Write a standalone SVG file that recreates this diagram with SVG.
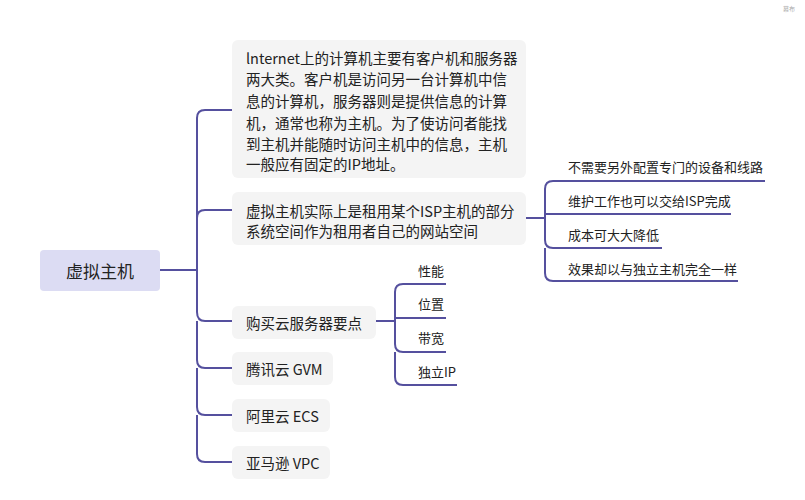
<svg xmlns="http://www.w3.org/2000/svg" width="805" height="500" viewBox="0 0 805 500">
<style>
text{font-family:"Noto Sans CJK SC","Noto Sans",sans-serif;fill:#222;dominant-baseline:central}
.b{fill:#f4f4f4}
.c{fill:none;stroke:#55509e;stroke-width:2}
.t{font-size:14.5px}
.s{font-size:13px}
</style>
<rect width="805" height="500" fill="#fff"/>
<text x="795" y="8" font-size="6" fill="#aaa" style="fill:#aaa" text-anchor="end">幕布</text>
<g id="connectors">
<path class="c" d="M160 270H197M197 270V118Q197 110 205 110H232M197 218Q197 210 205 210H232M197 270V312Q197 321 205 321H232M197 321V360Q197 368 205 368H232M197 368V407Q197 415 205 415H232M197 415V454Q197 462 205 462H232"/>
<path class="c" d="M526 218H545M545 218V189Q545 181 553 181H765M545 214H731M545 218V240Q545 248 553 248H662M545 248V273Q545 281 553 281H738"/>
<path class="c" d="M376 321H395M395 321V292Q395 284 403 284H446M395 318H446M395 321V344Q395 352 403 352H446M395 352V377Q395 385 403 385H457"/>
</g>
<g id="root"><rect x="40" y="250" width="120" height="41" rx="4" fill="#dcdcf3"/><text x="100" y="270" font-size="17" text-anchor="middle">虚拟主机</text></g>
<g id="n1"><rect class="b" x="232" y="40" width="294" height="138" rx="6"/>
<text class="t" x="246" y="57">lnternet上的计算机主要有客户机和服务器</text>
<text class="t" x="246" y="78">两大类。客户机是访问另一台计算机中信</text>
<text class="t" x="246" y="100">息的计算机，服务器则是提供信息的计算</text>
<text class="t" x="246" y="122">机，通常也称为主机。为了使访问者能找</text>
<text class="t" x="246" y="143">到主机并能随时访问主机中的信息，主机</text>
<text class="t" x="246" y="163">一般应有固定的IP地址。</text></g>
<g id="n2"><rect class="b" x="232" y="192" width="294" height="53" rx="6"/>
<text class="t" x="246" y="210">虚拟主机实际上是租用某个ISP主机的部分</text>
<text class="t" x="246" y="230">系统空间作为租用者自己的网站空间</text></g>
<g id="n2a"><text class="s" x="568" y="166">不需要另外配置专门的设备和线路</text></g>
<g id="n2b"><text class="s" x="568" y="200">维护工作也可以交给ISP完成</text></g>
<g id="n2c"><text class="s" x="568" y="234">成本可大大降低</text></g>
<g id="n2d"><text class="s" x="568" y="268">效果却以与独立主机完全一样</text></g>
<g id="n3"><rect class="b" x="232" y="306" width="144" height="33" rx="6"/><text class="t" x="246" y="322">购买云服务器要点</text></g>
<g id="n3a"><text class="s" x="418" y="270">性能</text></g>
<g id="n3b"><text class="s" x="418" y="303">位置</text></g>
<g id="n3c"><text class="s" x="418" y="337">带宽</text></g>
<g id="n3d"><text class="s" x="418" y="371">独立IP</text></g>
<g id="n4"><rect class="b" x="232" y="352" width="101" height="33" rx="6"/><text class="t" x="246" y="368">腾讯云 GVM</text></g>
<g id="n5"><rect class="b" x="232" y="399" width="98" height="33" rx="6"/><text class="t" x="246" y="415">阿里云 ECS</text></g>
<g id="n6"><rect class="b" x="232" y="446" width="98" height="33" rx="6"/><text class="t" x="246" y="462">亚马逊 VPC</text></g>
</svg>
